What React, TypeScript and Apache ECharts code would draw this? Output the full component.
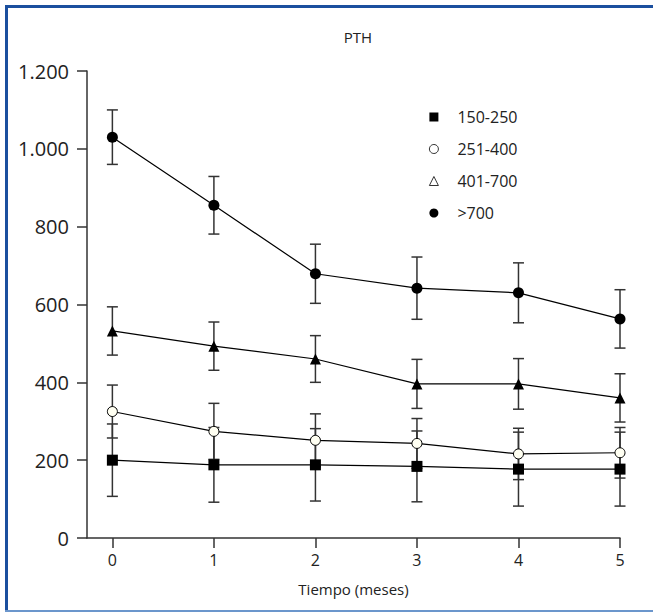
import React, { useEffect, useRef } from "react";
import * as echarts from "echarts";

const months = [0, 1, 2, 3, 4, 5];
const seriesNames = ["150-250", "251-400", "401-700", ">700"];
const mean150 = [200, 188, 188, 184, 177, 177];
const err150 = [93, 96, 93, 91, 95, 95];
const mean251 = [325, 274, 251, 243, 216, 219];
const err251 = [68, 72, 68, 64, 66, 65];
const mean401 = [532, 493, 460, 396, 396, 360];
const err401 = [62, 62, 60, 63, 65, 62];
const mean700 = [1030, 855, 679, 642, 630, 563];
const err700 = [70, 74, 76, 80, 77, 75];
const xTicks = [0, 1, 2, 3, 4, 5];
const yTicks = [0, 200, 400, 600, 800, 1000, 1200];

const FONT = "'Open Sans', 'Noto Sans', sans-serif";
const TEXT = "#222";

function fmtY(v: number): string {
  if (v >= 1000) {
    return Math.floor(v / 1000) + "." + String(v % 1000).padStart(3, "0");
  }
  return String(v);
}

function errSeries(mean: number[], err: number[]) {
  return {
    type: "custom",
    z: 1,
    silent: true,
    data: months.map((m, i) => [m, mean[i] - err[i], mean[i] + err[i]]),
    encode: { x: 0, y: [1, 2] },
    renderItem: (params: any, api: any) => {
      const x = api.value(0);
      const lo = api.value(1);
      const hi = api.value(2);
      const p1 = api.coord([x, hi]);
      const p2 = api.coord([x, lo]);
      const hw = 5.5;
      const style = { stroke: "#333", lineWidth: 1.5 };
      return {
        type: "group",
        children: [
          { type: "line", shape: { x1: p1[0], y1: p1[1], x2: p2[0], y2: p2[1] }, style },
          { type: "line", shape: { x1: p1[0] - hw, y1: p1[1], x2: p1[0] + hw, y2: p1[1] }, style },
          { type: "line", shape: { x1: p2[0] - hw, y1: p2[1], x2: p2[0] + hw, y2: p2[1] }, style },
        ],
      };
    },
  };
}

function lineSeries(name: string, mean: number[], symbol: string, size: number, itemStyle: any) {
  return {
    type: "line",
    name,
    z: 3,
    data: months.map((m, i) => [m, mean[i]]),
    symbol,
    symbolSize: size,
    showAllSymbol: true,
    lineStyle: { color: "#000", width: 1.2 },
    itemStyle,
    emphasis: { disabled: true },
  };
}

export default function App() {
  const ref = useRef<HTMLDivElement>(null);

  useEffect(() => {
    if (!ref.current) return;
    const chart = echarts.init(ref.current, undefined, { renderer: "svg" });
    chart.setOption({
      animation: false,
      backgroundColor: "#fff",
      textStyle: { fontFamily: FONT },
      title: {
        text: "PTH",
        left: 353,
        top: 24,
        textAlign: "center",
        textStyle: { fontFamily: FONT, fontSize: 15, fontWeight: "normal", color: TEXT },
      },
      legend: {
        orient: "vertical",
        left: 424,
        top: 104,
        itemWidth: 9,
        itemHeight: 9,
        itemGap: 16,
        selectedMode: false,
        textStyle: {
          fontFamily: FONT,
          fontSize: 16,
          lineHeight: 16,
          color: TEXT,
          padding: [0, 0, 0, 14],
        },
        data: [
          { name: seriesNames[0], icon: "rect", itemStyle: { color: "#000", borderWidth: 0 } },
          { name: seriesNames[1], icon: "circle", itemStyle: { color: "#fff", borderColor: "#000", borderWidth: 0.8 } },
          { name: seriesNames[2], icon: "triangle", itemStyle: { color: "#fff", borderColor: "#000", borderWidth: 0.8 } },
          { name: seriesNames[3], icon: "circle", itemStyle: { color: "#000", borderWidth: 0 } },
        ],
      },
      grid: { left: 87, right: 33, top: 71, bottom: 76 },
      xAxis: {
        type: "value",
        min: -0.25,
        max: 5,
        name: "Tiempo (meses)",
        nameLocation: "middle",
        nameGap: 43,
        nameTextStyle: { fontFamily: FONT, fontSize: 15, color: TEXT },
        axisLine: { show: true, onZero: false, lineStyle: { color: "#333", width: 1.5 } },
        axisTick: { show: true, length: 10, customValues: xTicks, lineStyle: { color: "#333", width: 1.5 } },
        axisLabel: { customValues: xTicks, fontFamily: FONT, fontSize: 16, color: TEXT, margin: 14 },
        splitLine: { show: false },
      },
      yAxis: {
        type: "value",
        min: yTicks[0],
        max: yTicks[yTicks.length - 1],
        interval: 200,
        axisLine: { show: true, onZero: false, lineStyle: { color: "#333", width: 1.5 } },
        axisTick: { show: true, length: 10, lineStyle: { color: "#333", width: 1.5 } },
        axisLabel: { fontFamily: FONT, fontSize: 20, color: TEXT, margin: 18, formatter: (v: number) => fmtY(v) },
        splitLine: { show: false },
      },
      graphic: [
        { type: "rect", silent: true, shape: { x: 5, y: 5, width: 648, height: 3 }, style: { fill: "#1b4f9e" } },
        { type: "rect", silent: true, shape: { x: 5, y: 5, width: 3, height: 606 }, style: { fill: "#1b4f9e" } },
        { type: "rect", silent: true, shape: { x: 5, y: 610, width: 648, height: 2 }, style: { fill: "#6b96cc" } },
      ],
      series: [
        errSeries(mean150, err150),
        errSeries(mean251, err251),
        errSeries(mean401, err401),
        errSeries(mean700, err700),
        lineSeries(seriesNames[0], mean150, "rect", 11, { color: "#000" }),
        lineSeries(seriesNames[1], mean251, "circle", 10, { color: "#fffff2", borderColor: "#000", borderWidth: 1 }),
        lineSeries(seriesNames[2], mean401, "triangle", 11, { color: "#000" }),
        lineSeries(seriesNames[3], mean700, "circle", 11, { color: "#000" }),
      ],
    });
    return () => chart.dispose();
  }, []);

  return (
    <div
      ref={ref}
      style={{ position: "absolute", left: 0, top: 0, width: 653, height: 614 }}
    />
  );
}
